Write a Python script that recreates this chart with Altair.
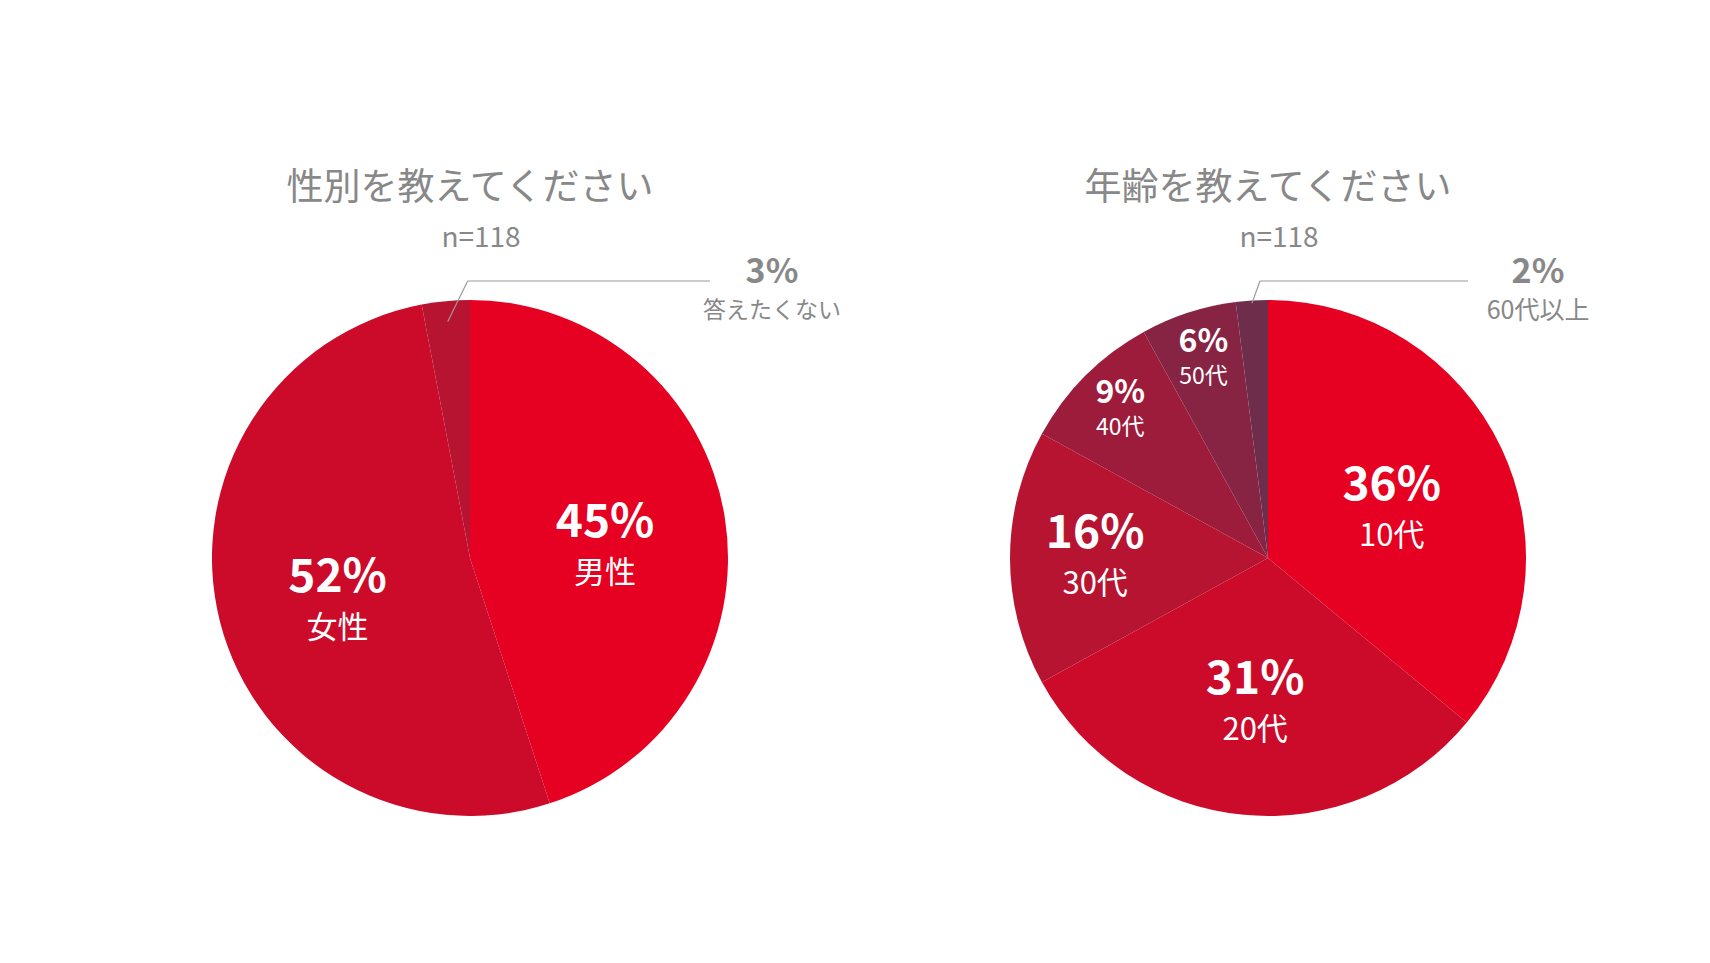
import altair as alt
import pandas as pd

gender_labels = ["男性", "女性", "答えたくない"]
gender_values = [45, 52, 3]
gender_colors = ["#E60021", "#CC0A2A", "#B71432"]

age_labels = ["10代", "20代", "30代", "40代", "50代", "60代以上"]
age_values = [36, 31, 16, 9, 6, 2]
age_colors = ["#E60021", "#CC0A2A", "#B71432", "#9E1C3B", "#882443", "#6E2D4A"]

titles = ["性別を教えてください", "年齢を教えてください"]
sample_note = "n=118"

W, H = 1694, 947
R = 258
CY = 550
FONT = "Noto Sans CJK JP"
GRAY = "#888888"

color_scale = alt.Scale(domain=gender_labels + age_labels, range=gender_colors + age_colors)


def pie_layers(labels, values, cx, title, call_len, start_rf, elbow_dx, text_dx, call_fs):
    df = pd.DataFrame({"label": labels, "value": values, "idx": list(range(len(labels)))})
    base = alt.Chart(df)
    theta = alt.Theta("value:Q", stack=True, scale=alt.Scale(domain=[0, 100]))
    order = alt.Order("idx:Q", sort="ascending")
    layers = []
    arc = base.mark_arc(outerRadius=R).encode(
        theta=theta,
        order=order,
        color=alt.Color("label:N", scale=color_scale, legend=None),
        x=alt.value(cx),
        y=alt.value(CY),
    )
    layers.append(arc)

    classes = [
        ("datum.value >= 30", 0.53, 46, 31, -14, 37),
        ("datum.value >= 15 && datum.value < 30", 0.67, 46, 31, -24, 27),
        ("datum.value >= 5 && datum.value < 15", 0.81, 32, 23, -17, 18),
    ]
    for cond, rf, ps, ns, pdy, ndy in classes:
        t = base.transform_calculate(
            pct=f"({cond}) ? datum.value + '%' : ''",
            nm=f"({cond}) ? datum.label : ''",
        )
        layers.append(
            t.mark_text(radius=R * rf, font=FONT, fontSize=ps, fontWeight="bold",
                        color="white", dy=pdy, baseline="middle", align="center").encode(
                theta=theta, order=order, text="pct:N", x=alt.value(cx), y=alt.value(CY))
        )
        layers.append(
            t.mark_text(radius=R * rf, font=FONT, fontSize=ns, color="white",
                        dy=ndy, baseline="middle", align="center").encode(
                theta=theta, order=order, text="nm:N", x=alt.value(cx), y=alt.value(CY))
        )

    call = base.transform_window(
        cum="sum(value)", sort=[alt.SortField("idx")], frame=[None, 0]
    ).transform_calculate(
        ang="(datum.cum - datum.value / 2) / 100 * 2 * PI",
        sx=f"{cx} + {start_rf * R} * sin(datum.ang)",
        sy=f"{CY} - {start_rf * R} * cos(datum.ang)",
        ex=f"datum.sx + {elbow_dx}",
        ey=f"{CY - R - 19}",
        hx=f"{cx + call_len}",
        tx=f"{cx + call_len + text_dx}",
        pct="datum.value + '%'",
    ).transform_filter("datum.value < 5")
    layers.append(call.mark_rule(color="#9a9a9a", strokeWidth=1.2).encode(
        x=alt.X("sx:Q", scale=None, axis=None), y=alt.Y("sy:Q", scale=None, axis=None),
        x2="ex:Q", y2="ey:Q"))
    layers.append(call.mark_rule(color="#9a9a9a", strokeWidth=1.2).encode(
        x=alt.X("ex:Q", scale=None, axis=None), y=alt.Y("ey:Q", scale=None, axis=None),
        x2="hx:Q", y2="ey:Q"))
    layers.append(call.mark_text(font=FONT, fontSize=34, fontWeight="bold", color=GRAY,
                                 baseline="middle", align="center", dy=-8).encode(
        x=alt.X("tx:Q", scale=None, axis=None), y=alt.Y("ey:Q", scale=None, axis=None), text="pct:N"))
    layers.append(call.mark_text(font=FONT, fontSize=call_fs, color=GRAY,
                                 baseline="middle", align="center", dy=30).encode(
        x=alt.X("tx:Q", scale=None, axis=None), y=alt.Y("ey:Q", scale=None, axis=None), text="label:N"))

    tdf = pd.DataFrame({"t": [title], "n": [sample_note]})
    layers.append(alt.Chart(tdf).mark_text(font=FONT, fontSize=37, color=GRAY,
                                           baseline="middle", align="center").encode(
        text="t:N", x=alt.value(cx), y=alt.value(CY - 369)))
    layers.append(alt.Chart(tdf).mark_text(font=FONT, fontSize=28, color=GRAY,
                                           baseline="middle", align="center").encode(
        text="n:N", x=alt.value(cx + 11), y=alt.value(CY - 319)))
    return layers


layers = pie_layers(gender_labels, gender_values, 462, titles[0], 240, 0.92, 20, 62, 23) + \
    pie_layers(age_labels, age_values, 1260, titles[1], 200, 0.99, 8, 70, 25)

chart = alt.layer(*layers).properties(
    width=W, height=H, padding=0, autosize=alt.AutoSizeParams(type="none")
).configure_view(stroke=None)

chart.save("out.html", embed_options={"renderer": "svg", "actions": False})
